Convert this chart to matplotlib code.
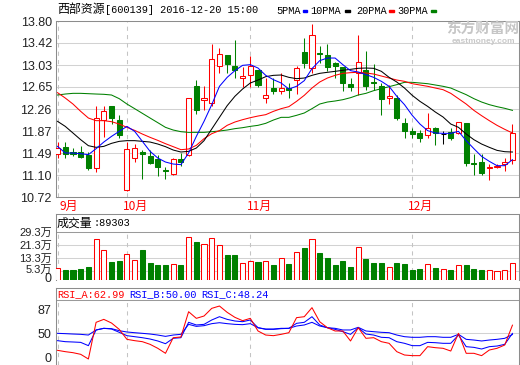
import matplotlib
matplotlib.use("Agg")
import matplotlib.pyplot as plt
from matplotlib.patches import Rectangle
from matplotlib.transforms import ScaledTranslation

plt.rcParams['font.family'] = ['Liberation Sans', 'Noto Sans CJK SC', 'DejaVu Sans']

# ---------------- data ----------------
opens = [11.48, 11.59, 11.50, 11.50, 11.45, 11.22, 12.07, 12.31, 12.07, 10.85,
         11.41, 11.50, 11.43, 11.39, 11.20, 11.12, 11.38, 11.46, 12.66, 12.41,
         12.36, 13.02, 13.20, 13.01, 12.80, 12.85, 12.95, 12.45, 12.62, 12.57,
         12.63, 12.77, 13.26, 12.98, 13.24, 13.20, 13.07, 12.99, 12.70, 12.89,
         12.94, 12.74, 12.67, 12.46, 12.46, 12.02, 11.87, 11.84, 11.81, 11.93,
         11.83, 11.86, 11.84, 12.02, 11.32, 11.33, 11.23, 11.25, 11.29, 11.37]
highs = [11.68, 11.68, 11.58, 11.61, 11.50, 12.32, 12.32, 12.31, 12.15, 11.69,
         11.64, 11.55, 11.55, 11.45, 11.24, 11.40, 11.49, 12.45, 12.77, 12.66,
         13.40, 13.33, 13.20, 13.46, 12.99, 13.18, 12.95, 12.80, 12.80, 12.89,
         12.71, 13.02, 13.50, 13.74, 13.36, 13.40, 13.09, 12.99, 12.81, 13.55,
         13.27, 13.05, 12.72, 12.68, 12.51, 12.10, 11.93, 11.90, 12.19, 11.94,
         11.87, 11.93, 12.04, 12.02, 11.48, 11.47, 11.29, 11.30, 11.40, 11.99]
lows = [11.41, 11.41, 11.43, 11.40, 11.20, 11.16, 11.77, 12.00, 11.75, 10.83,
        11.33, 11.04, 11.29, 11.08, 11.04, 11.10, 11.26, 11.43, 12.17, 12.25,
        12.32, 12.89, 12.89, 12.80, 12.64, 12.64, 12.65, 12.37, 12.53, 12.52,
        12.46, 12.53, 12.98, 12.89, 13.07, 12.92, 12.81, 12.58, 12.58, 12.50,
        12.60, 12.59, 12.15, 12.34, 12.06, 11.75, 11.75, 11.69, 11.75, 11.63,
        11.64, 11.72, 11.82, 11.26, 11.10, 11.10, 11.02, 11.22, 11.18, 11.29]
closes = [11.57, 11.48, 11.47, 11.42, 11.22, 12.10, 12.22, 12.11, 11.81, 11.56,
          11.58, 11.47, 11.32, 11.24, 11.17, 11.38, 11.33, 12.45, 12.25, 12.45,
          13.13, 13.23, 13.05, 12.94, 12.84, 13.02, 12.68, 12.50, 12.57, 12.62,
          12.60, 12.98, 13.07, 13.55, 13.22, 12.99, 13.02, 12.72, 12.64, 13.09,
          12.67, 12.72, 12.44, 12.48, 12.10, 11.88, 11.83, 11.76, 11.93, 11.84,
          11.83, 11.76, 12.03, 11.32, 11.29, 11.14, 11.25, 11.27, 11.33, 11.84]

ma5 = [11.606, 11.490, 11.490, 11.478, 11.461, 11.566, 11.682, 11.781, 11.869, 11.956,
       11.869, 11.694, 11.519, 11.402, 11.332, 11.297, 11.286, 11.490, 11.781, 12.044,
       12.336, 12.657, 12.814, 12.931, 13.024, 13.036, 12.977, 12.849, 12.773, 12.715,
       12.610, 12.657, 12.756, 12.966, 13.106, 13.152, 13.152, 13.036, 12.931, 12.907,
       12.861, 12.814, 12.744, 12.657, 12.482, 12.336, 12.149, 11.997, 11.881, 11.840,
       11.834, 11.834, 11.869, 11.706, 11.566, 11.431, 11.344, 11.268, 11.268, 11.373]
ma10 = [12.044, 11.956, 11.840, 11.723, 11.618, 11.589, 11.606, 11.659, 11.694, 11.706,
        11.706, 11.694, 11.682, 11.647, 11.601, 11.542, 11.507, 11.519, 11.577, 11.706,
        11.910, 12.114, 12.318, 12.482, 12.610, 12.715, 12.767, 12.826, 12.849, 12.855,
        12.814, 12.791, 12.802, 12.849, 12.884, 12.902, 12.919, 12.937, 12.954, 12.972,
        12.977, 12.972, 12.919, 12.814, 12.732, 12.627, 12.499, 12.394, 12.306, 12.207,
        12.120, 11.997, 11.939, 11.822, 11.723, 11.647, 11.589, 11.536, 11.513, 11.507]
ma20 = [12.546, 12.452, 12.347, 12.219, 12.102, 12.056, 12.056, 12.038, 11.997, 11.939,
        11.886, 11.822, 11.764, 11.711, 11.653, 11.601, 11.548, 11.560, 11.624, 11.741,
        11.828, 11.881, 11.974, 12.032, 12.073, 12.108, 12.137, 12.161, 12.219, 12.266,
        12.301, 12.394, 12.499, 12.627, 12.732, 12.802, 12.849, 12.884, 12.896, 12.902,
        12.890, 12.872, 12.837, 12.802, 12.767, 12.744, 12.703, 12.680, 12.657, 12.627,
        12.598, 12.534, 12.441, 12.347, 12.236, 12.143, 12.056, 11.974, 11.904, 11.840]
ma30 = [12.505, 12.522, 12.534, 12.534, 12.528, 12.522, 12.517, 12.505, 12.441, 12.347,
        12.266, 12.184, 12.102, 12.021, 11.939, 11.892, 11.863, 11.851, 11.851, 11.851,
        11.863, 11.875, 11.892, 11.916, 11.933, 11.956, 11.974, 12.009, 12.067, 12.114,
        12.114, 12.149, 12.190, 12.266, 12.347, 12.382, 12.400, 12.423, 12.458, 12.505,
        12.534, 12.581, 12.616, 12.651, 12.686, 12.727, 12.727, 12.715, 12.703, 12.680,
        12.657, 12.627, 12.569, 12.511, 12.441, 12.382, 12.336, 12.301, 12.272, 12.236]

volume_wan = [7.2, 6.1, 6.1, 6.8, 8.0, 25.0, 18.2, 11.1, 11.7, 15.8,
              12.1, 18.4, 10.5, 9.2, 9.2, 9.6, 9.2, 26.2, 23.4, 22.1,
              25.6, 21.3, 15.4, 15.4, 10.2, 11.3, 10.7, 11.5, 9.2, 13.3,
              9.8, 17.0, 19.7, 25.0, 16.6, 13.5, 9.2, 11.7, 8.0, 20.1,
              12.9, 10.5, 10.5, 7.8, 10.5, 9.8, 6.4, 6.8, 9.6, 7.4,
              6.6, 6.4, 9.0, 9.2, 6.8, 6.4, 6.1, 5.5, 6.1, 10.2]

rsi_a = [23.2, 21.1, 19.5, 16.9, 9.5, 67.5, 72.2, 66.4, 56.4, 40.6,
         38.5, 36.9, 32.7, 26.4, 18.5, 43.2, 44.3, 84.3, 73.8, 77.5,
         89.6, 93.3, 83.3, 75.4, 70.1, 73.8, 53.8, 47.4, 46.4, 48.5,
         51.1, 74.9, 76.4, 90.7, 68.5, 59.0, 53.8, 53.8, 38.0, 59.0,
         42.2, 43.2, 36.9, 34.3, 21.1, 15.8, 14.8, 14.8, 29.0, 27.4,
         26.4, 22.1, 50.1, 18.5, 18.5, 14.8, 23.7, 26.4, 31.6, 62.99]
rsi_b = [38.5, 36.9, 36.4, 35.8, 30.6, 55.4, 58.0, 56.9, 51.7, 46.4,
         44.8, 43.2, 41.1, 38.0, 33.7, 42.2, 43.2, 67.5, 63.3, 64.3,
         71.2, 76.4, 72.2, 69.6, 68.5, 71.2, 59.0, 56.4, 56.4, 57.5,
         58.0, 65.9, 67.5, 76.4, 63.3, 59.0, 56.4, 52.7, 48.5, 59.0,
         49.0, 47.4, 43.8, 43.2, 36.9, 34.3, 30.6, 30.6, 35.8, 35.3,
         34.3, 34.3, 47.4, 29.0, 27.9, 25.3, 29.0, 30.0, 32.7, 50.00]
rsi_c = [50.1, 49.6, 49.0, 48.5, 47.4, 55.4, 58.0, 57.5, 54.3, 52.2,
         51.1, 50.1, 49.0, 47.4, 45.3, 47.4, 48.5, 64.3, 61.1, 62.2,
         65.4, 66.9, 65.4, 64.3, 63.8, 65.4, 59.0, 56.9, 56.9, 58.0,
         58.0, 61.7, 63.3, 67.5, 61.7, 59.0, 58.0, 55.4, 55.4, 59.6,
         53.8, 52.7, 51.7, 51.1, 47.4, 44.8, 43.8, 43.8, 44.8, 44.8,
         43.8, 43.8, 48.5, 40.6, 39.5, 38.0, 39.5, 40.6, 42.2, 48.24]

month_labels = ["9月", "10月", "11月", "12月"]
month_bars = [0, 9, 25, 46]
price_ticks = [10.72, 11.10, 11.49, 11.87, 12.26, 12.65, 13.03, 13.42, 13.80]
vol_ticks = [5.3, 13.3, 21.3, 29.3]
rsi_ticks = [0, 50, 87]
title_name = "西部资源"
title_info = "[600139] 2016-12-20 15:00"
ma_names = ["5PMA", "10PMA", "20PMA", "30PMA"]
vol_label = "成交量"
vol_last = "89303"

# ---------------- layout ----------------
W, H = 520, 365
fig = plt.figure(figsize=(W / 100, H / 100), dpi=100)
fig.patch.set_facecolor('white')


def axes_px(l, t, r, b):
    return fig.add_axes([l / W, 1 - b / H, (r - l) / W, (b - t) / H])


def ftext(x, y, s, **kw):
    kw.setdefault('va', 'center')
    kw.setdefault('ha', 'left')
    return fig.text(x / W, 1 - y / H, s, **kw)


FRAME = '#8c8c8c'
GRID = '#d2d2d2'
VGRID = '#c4c4c4'
RED = '#ff0000'
GREEN = '#008000'
BLUE = '#0000ff'
MONO = ['Liberation Mono', 'Noto Sans CJK SC']
CJK = ['Noto Sans CJK SC', 'DejaVu Sans']
n = len(closes)
xs = list(range(n))
XL = (-0.2, 59.85)
BW = 0.66
LW = 0.75


def style(ax, size=9):
    ax.set_xlim(*XL)
    ax.set_xticks([])
    for s in ax.spines.values():
        s.set_color(FRAME)
        s.set_linewidth(LW)
    ax.tick_params(axis='y', length=0, pad=3, labelsize=size, labelcolor='#222222')
    ax.set_facecolor('white')


# ---- main price panel ----
ax = axes_px(56, 21, 519, 197)
style(ax)
ax.set_ylim(price_ticks[0], price_ticks[-1])
ax.set_yticks(price_ticks)
ax.set_yticklabels([f"{v:.2f}" for v in price_ticks])
for v in price_ticks[1:-1]:
    ax.axhline(v, color=GRID, lw=LW, zorder=0)
for m in month_bars:
    ax.axvline(m, color=VGRID, lw=LW, ls=(0, (4, 4)), zorder=0)

for i in xs:
    o, h, l, c = opens[i], highs[i], lows[i], closes[i]
    if c > o:
        col, face = RED, 'white'
    elif c < o:
        col, face = GREEN, GREEN
    else:
        col, face = 'black', 'black'
    ax.vlines(i, l, h, color=col, lw=LW, zorder=2)
    if c == o:
        ax.hlines(c, i - BW / 2, i + BW / 2, color=col, lw=LW, zorder=3)
    else:
        ax.bar(i, abs(c - o), bottom=min(o, c), width=BW, facecolor=face,
               edgecolor=col, lw=LW, zorder=3)

for series, col in [(ma30, GREEN), (ma20, RED), (ma10, 'black'), (ma5, BLUE)]:
    ax.plot(xs, series, color=col, lw=LW, zorder=4)

# watermark
ftext(446, 29, "东方财富网", fontsize=10.5, color='#c6c6c6', fontweight='bold',
      family=CJK, zorder=0)
ftext(452, 41.5, "eastmoney.com", fontsize=6.0, color='#c8c8c8', fontweight='bold',
      family=['Liberation Sans'], zorder=0)

# header
ftext(57, 10, title_name, fontsize=8.6, family=CJK, color='black')
ftext(105, 10, title_info, fontsize=7.4, family=MONO, color='black')
leg_x = [276, 310, 356, 397]
dash_x = [302.5, 345, 389, 431]
leg_cols = [BLUE, 'black', RED, GREEN]
for name, lx, dx, col in zip(ma_names, leg_x, dash_x, leg_cols):
    ftext(lx, 10.5, name, fontsize=7.4, family=MONO, color='black')
    fig.add_artist(Rectangle((dx / W, 1 - 12 / H), 4.5 / W, 2 / H, color=col,
                             transform=fig.transFigure))

# month labels
month_x = [60, 123, 247, 408]
for lab, mx in zip(month_labels, month_x):
    ftext(mx, 206, lab, fontsize=8.6, family=CJK, color=RED)

# ---- volume panel ----
axv = axes_px(56, 214, 519, 280)
style(axv, size=8)
axv.spines['bottom'].set_visible(False)
axv.set_ylim(0, 40.3)
axv.set_yticks([0] + vol_ticks)
axv.set_yticklabels(['0'] + [f"{v}万" for v in vol_ticks])
vticks = axv.yaxis.get_major_ticks()
vticks[0].label1.set_fontsize(9)
vticks[0].label1.set_verticalalignment('top')
vticks[0].label1.set_transform(vticks[0].label1.get_transform() +
                               ScaledTranslation(0, 5 / 72, fig.dpi_scale_trans))
vticks[1].label1.set_transform(vticks[1].label1.get_transform() +
                               ScaledTranslation(0, 2 / 72, fig.dpi_scale_trans))
for v in vol_ticks[:-1]:
    axv.axhline(v, color=GRID, lw=LW, zorder=0)
axv.axhline(vol_ticks[-1], color='#9a9a9a', lw=LW, zorder=1)
for m in month_bars:
    axv.vlines(m, 0, vol_ticks[-1], color=VGRID, lw=LW, ls=(0, (4, 4)), zorder=0)
for i in xs:
    up = closes[i] >= opens[i]
    if up:
        axv.bar(i, volume_wan[i], width=BW, facecolor='white', edgecolor=RED,
                lw=LW, zorder=3)
    else:
        axv.bar(i, volume_wan[i], width=BW, facecolor=GREEN, edgecolor=GREEN,
                lw=LW, zorder=3)
ftext(57, 223, vol_label, fontsize=8.6, family=CJK, color='black')
ftext(93, 223, ":" + vol_last, fontsize=7.4, family=MONO, color='black')

# ---- RSI panel ----
axr = axes_px(56, 288, 519, 365)
style(axr)
axr.set_ylim(0, 121.8)
axr.set_yticks(rsi_ticks)
axr.set_yticklabels([str(v) for v in rsi_ticks])
axr.yaxis.get_major_ticks()[0].label1.set_verticalalignment('bottom')
axr.axhline(50, color=GRID, lw=LW, zorder=0)
axr.axhline(102.8, color='#9a9a9a', lw=LW, zorder=1)
for m in month_bars:
    axr.vlines(m, 0, 102.8, color=VGRID, lw=LW, ls=(0, (4, 4)), zorder=0)
axr.plot(xs, rsi_c, color=BLUE, lw=LW, zorder=3)
axr.plot(xs, rsi_b, color=BLUE, lw=LW, zorder=3)
axr.plot(xs, rsi_a, color=RED, lw=LW, zorder=4)
ftext(57, 294, f"RSI_A:{rsi_a[-1]:.2f}", fontsize=7.4, family=MONO, color=RED)
ftext(129, 294, f"RSI_B:{rsi_b[-1]:.2f}", fontsize=7.4, family=MONO, color=BLUE)
ftext(201, 294, f"RSI_C:{rsi_c[-1]:.2f}", fontsize=7.4, family=MONO, color=BLUE)

fig.savefig("out.png", dpi=100, facecolor='white')
